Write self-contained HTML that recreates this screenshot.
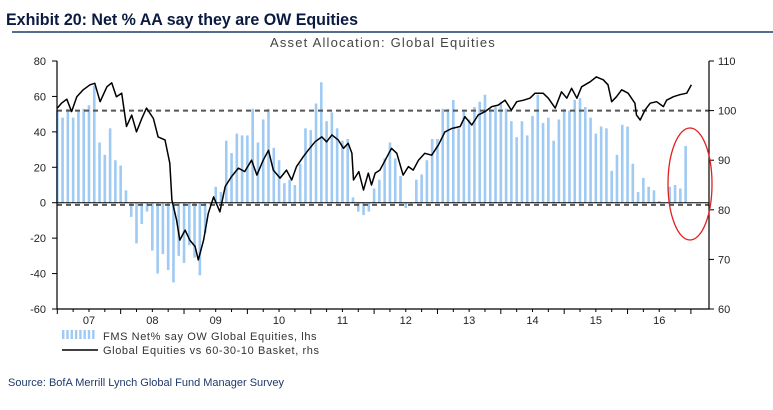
<!DOCTYPE html>
<html><head><meta charset="utf-8"><style>
body{margin:0;background:#fff;width:773px;height:405px;overflow:hidden;font-family:"Liberation Sans",sans-serif}
</style></head><body>
<svg id="c" width="773" height="405" xmlns="http://www.w3.org/2000/svg">
<text x="6" y="25" font-family="Liberation Sans Narrow, Liberation Sans, sans-serif" font-weight="bold" font-size="17" fill="#0a1a40" textLength="352" lengthAdjust="spacingAndGlyphs">Exhibit 20: Net % AA say they are OW Equities</text>
<line x1="12" y1="32" x2="773" y2="32" stroke="#1f3a6a" stroke-width="1.5"/>
<text x="383" y="47" text-anchor="middle" font-size="13" fill="#444" letter-spacing="1.2">Asset Allocation: Global Equities</text>
<g id="plot"></g>
<text x="8" y="386" font-size="11" fill="#1f3a6a">Source: BofA Merrill Lynch Global Fund Manager Survey</text>
</svg>
<script>
const barValues=[52,48,53,48,52,53,55,66,34,27,42,24,21,7,-8,-23,-12,-5,-27,-40,-29,-38,-45,-30,-34,-24,-31,-41,-17,-1,9,6,35,28,39,38,38,53,34,47,53,31,24,11,13,10,22,42,41,56,68,46,51,42,35,36,3,-5,-7,-5,8,
13,25,34,25,15,-3,-1,13,16,24,36,36,53,53,58,42,52,47,54,57,61,53,54,57,53,46,37,46,38,49,61,45,48,35,47,53,52,58,59,54,48,39,43,42,18,27,44,43,22,6,14,9,7,1,0,9,10,8,32];
const lineMonths=[0,0.8,1.8,2.7,3.7,4.9,6.2,7.1,8.1,9.4,10.3,11.2,12.2,13.1,14.1,15.0,16.0,16.9,18.2,19.1,20.4,21.3,21.7,22.6,23.2,24.2,25.1,26.1,26.7,27.7,28.6,29.6,30.8,31.8,33.0,34.3,35.5,36.8,37.8,39.0,40.0,40.9,42.2,43.4,44.4,45.3,46.6,47.5,48.8,50.1,51.0,52.0,53.2,54.2,55.1,55.8,56.1,57.1,58.0,58.9,59.5,60.2,61.1,62.1,63.3,64.3,65.5,66.5,67.4,68.4,69.6,70.9,72.2,73.4,74.7,76.3,77.2,78.5,79.7,81.0,82.3,83.5,84.8,86.0,87.0,88.3,89.5,90.5,92.0,93.0,94.3,95.5,96.5,97.4,98.4,99.3,100.9,102.1,103.4,104.3,105.0,105.9,106.9,108.1,109.4,109.7,110.4,111.3,112.3,113.5,114.8,115.4,116.7,117.9,119.2,120.1];
const lineValues=[100.5,101.5,102.3,99.8,102.8,104.2,105.2,105.5,101.8,104.8,105.6,102.8,103.5,96.8,99.1,95.7,98.4,100.5,98.4,94.7,94.1,89.4,82,77.9,73.9,75.9,73.9,72.6,69.9,73.9,79.3,82.6,79.6,84.7,86.7,88.4,87.7,90,87,90,92,88,86.4,88,86,88.7,90.7,92,93.7,94.7,93.7,95.1,94.1,92.4,93.4,91.4,86,87.7,84,87.4,85,87.4,88,90,92.4,91.4,87,88.7,88,90,91.4,91,93.1,95.7,96.4,96.8,98.8,97.1,99.1,99.8,100.8,101.1,102.1,100.1,101.8,102.1,102.5,103.5,103.5,102.5,100.5,103.8,102.5,104.5,102.5,104.8,105.8,106.8,106.2,105.2,101.8,102.8,104.2,103.5,101.5,99.1,98.1,100.1,101.5,101.8,100.8,102.1,102.8,103.2,103.5,105.2];
const yearLabels=["07","08","09","10","11","12","13","14","15","16"];
const leftTicks=[80,60,40,20,0,-20,-40,-60];
const rightTicks=[110,100,90,80,70,60];
const dashLeft=52, dashRight=81;

const X0=57.3,MW=5.28,L=57,R=709,T=61,B=309;
const xm=m=>X0+m*MW;
const yl=v=>T+(80-v)*(B-T)/140;
const yr=v=>T+(110-v)*(B-T)/50;
const NS="http://www.w3.org/2000/svg";
const g=document.getElementById('plot');
function mk(t,a){const e=document.createElementNS(NS,t);for(const k in a)e.setAttribute(k,a[k]);g.appendChild(e);return e;}

barValues.forEach((v,i)=>{
  const y0=yl(0),y1=yl(v);
  const b=mk('rect',{x:xm(i)-1.3,y:Math.min(y0,y1),width:2.6,height:Math.abs(y1-y0),fill:'#9fcaf3'});
  
  
});
let z=mk('line',{x1:L,x2:R,y1:yl(0),y2:yl(0),stroke:'#000','stroke-width':1});


let d1=mk('line',{x1:L,x2:R,y1:yl(dashLeft),y2:yl(dashLeft),stroke:'#555','stroke-width':2,'stroke-dasharray':'5,4'});


let d2=mk('line',{x1:L,x2:R,y1:yr(dashRight),y2:yr(dashRight),stroke:'#555','stroke-width':2,'stroke-dasharray':'5,4'});


let p=mk('path',{d:lineMonths.map((m,i)=>(i?'L':'M')+xm(m).toFixed(1)+','+yr(lineValues[i]).toFixed(1)).join(''),fill:'none',stroke:'#000','stroke-width':1.5,'stroke-linejoin':'round'});



let ax=mk('path',{d:`M${L},${T}V${B}H${R}V${T}`,fill:'none',stroke:'#000','stroke-width':1.2});


leftTicks.forEach(v=>{
  mk('line',{x1:L-5,x2:L,y1:yl(v),y2:yl(v),stroke:'#000'});
  const t=mk('text',{x:L-11,y:yl(v)+4,'text-anchor':'end','font-size':11,fill:'#222'});t.textContent=v;
  
  
});
rightTicks.forEach(v=>{
  mk('line',{x1:R,x2:R+5,y1:yr(v),y2:yr(v),stroke:'#000'});
  const t=mk('text',{x:R+9,y:yr(v)+4,'font-size':11,fill:'#222'});t.textContent=v;
  
  
});
for(let q=0;q<=40;q++){const x=xm(q*3);if(x>R)break;mk('line',{x1:x,x2:x,y1:B,y2:B+(q%4==0?5:3),stroke:'#000'});}
yearLabels.forEach((s,i)=>{
  const t=mk('text',{x:xm(i*12+6),y:B+15,'text-anchor':'middle','font-size':11,fill:'#222'});t.textContent=s;
  
  
});
let el=mk('ellipse',{cx:690,cy:184,rx:22,ry:56,fill:'none',stroke:'#e02020','stroke-width':1.3});


for(let k=0;k<8;k++){mk('rect',{x:62+k*4.3,y:330,width:2.4,height:9,fill:'#9fcaf3'});}
let lt1=mk('text',{x:103,y:340,'font-size':11,fill:'#333','letter-spacing':0.6});lt1.textContent='FMS Net% say OW Global Equities, lhs';


mk('line',{x1:62,x2:98,y1:350,y2:350,stroke:'#000','stroke-width':1.5});
let lt2=mk('text',{x:103,y:354,'font-size':11,fill:'#333','letter-spacing':0.6});lt2.textContent='Global Equities vs 60-30-10 Basket, rhs';


</script>
</body></html>
